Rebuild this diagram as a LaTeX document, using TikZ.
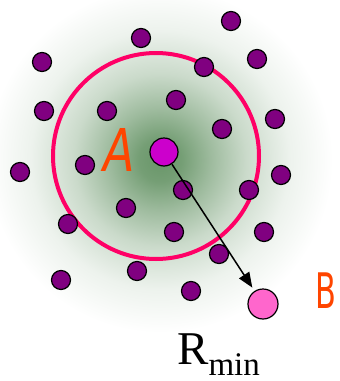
\documentclass[tikz,border=0pt]{standalone}
\usepackage{fontspec}
\setmainfont{Liberation Serif}
\newfontfamily\labfont{DejaVu Sans}
\usetikzlibrary{arrows.meta}
\definecolor{dotpurple}{RGB}{128,0,128}
\definecolor{amag}{RGB}{204,0,204}
\definecolor{bpink}{RGB}{255,102,204}
\definecolor{ringpink}{RGB}{255,0,102}
\definecolor{laborange}{RGB}{255,69,0}
\definecolor{glow}{RGB}{105,150,105}
\pgfdeclareradialshading{glowsh}{\pgfpoint{0bp}{0bp}}{color(0bp)=(glow);color(3bp)=(glow!92!white);color(7bp)=(glow!65!white);color(12bp)=(glow!35!white);color(18bp)=(glow!12!white);color(24bp)=(white);color(50bp)=(white)}
\begin{document}
\begin{tikzpicture}[x=1pt,y=-1pt,
  dot/.style={circle,draw=black,line width=1.2pt,fill=dotpurple,minimum size=19pt,inner sep=0pt},
  bigdot/.style={circle,draw=black,line width=1.2pt,minimum size=28pt,inner sep=0pt},
  lab/.style={text=laborange,inner sep=0pt}]
\useasboundingbox (0,0) rectangle (340,381);
\shade[shading=glowsh] (160,160) circle (180);
\draw[ringpink,line width=4pt] (156,156) circle (103);
\foreach \x/\y [count=\i] in {231/21,141/38,42/62,204/67,257/59,44/111,107/111,176/100,222/129,275/119,20/172,85/165,281/175,183/190,249/190,126/208,68/224,174/232,264/232,219/254,137/271,61/280,191/291}
  \node[dot] (d\i) at (\x,\y) {};
\node[bigdot,fill=amag] (A) at (164,152) {};
\node[bigdot,fill=bpink,minimum size=30pt] (B) at (263,304) {};
\draw[line width=1.5pt,-{Triangle[length=15pt,width=12pt]},shorten >=4pt] (A) -- (B);
\node[lab] (la) at (119,150) {\scalebox{0.78}[1]{\labfont\itshape\fontsize{59}{59}\selectfont A}};
\node[lab] (lb) at (326,291) {\scalebox{0.62}[1]{\labfont\fontsize{49}{49}\selectfont B}};
\node[anchor=base west,inner sep=0pt] (r) at (177,364) {\fontsize{47}{47}\selectfont R\raisebox{-11pt}{\fontsize{33}{33}\selectfont min}};
\end{tikzpicture}
\end{document}
